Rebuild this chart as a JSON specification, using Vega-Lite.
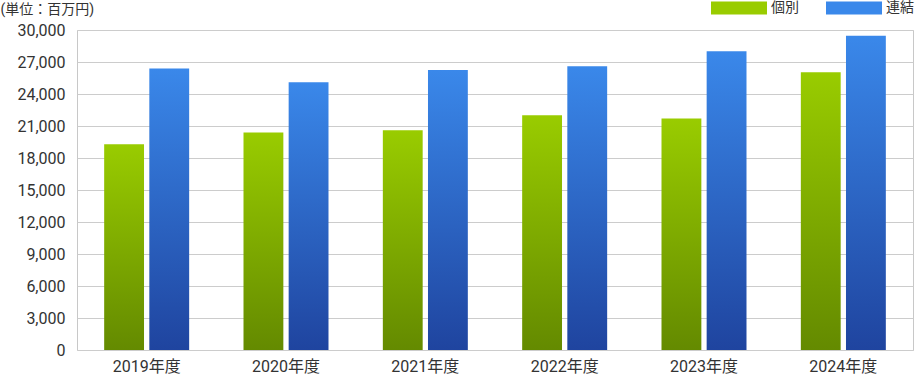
{
  "$schema": "https://vega.github.io/schema/vega-lite/v6.json",
  "width": 836,
  "height": 320,
  "autosize": {"type": "none"},
  "padding": {"left": 77, "top": 30, "right": 3, "bottom": 24},
  "background": "white",
  "config": {
    "view": {"stroke": "#c8c8c8"},
    "font": "Roboto, Noto Sans CJK JP"
  },
  "data": {
    "values": [
      {"year": "2019年度", "series": "個別", "value": 19300},
      {"year": "2019年度", "series": "連結", "value": 26400},
      {"year": "2020年度", "series": "個別", "value": 20400},
      {"year": "2020年度", "series": "連結", "value": 25100},
      {"year": "2021年度", "series": "個別", "value": 20600},
      {"year": "2021年度", "series": "連結", "value": 26250},
      {"year": "2022年度", "series": "個別", "value": 22000},
      {"year": "2022年度", "series": "連結", "value": 26600},
      {"year": "2023年度", "series": "個別", "value": 21700},
      {"year": "2023年度", "series": "連結", "value": 28000},
      {"year": "2024年度", "series": "個別", "value": 26050},
      {"year": "2024年度", "series": "連結", "value": 29450}
    ]
  },
  "encoding": {
    "x": {
      "field": "year", "type": "nominal", "sort": null,
      "scale": {"paddingInner": 0.39, "paddingOuter": 0.195},
      "axis": {"title": null, "labelAngle": 0, "labelFontSize": 16, "labelPadding": 16, "labelBaseline": "middle", "ticks": false, "domain": false, "grid": false, "labelColor": "#333333"}
    },
    "xOffset": {
      "field": "series", "type": "nominal",
      "scale": {"domain": ["個別", "連結"], "paddingInner": 0.1176, "paddingOuter": 0}
    },
    "y": {
      "field": "value", "type": "quantitative",
      "scale": {"domain": [0, 30000]},
      "axis": {
        "title": "(単位：百万円)", "titleAngle": 0, "titleAlign": "left", "titleBaseline": "middle",
        "titleX": -77, "titleY": -21, "titleFontSize": 14, "titleFontWeight": "normal", "titleColor": "#333333",
        "labelFontSize": 16, "labelColor": "#333333", "labelPadding": 12, "ticks": false, "domain": false,
        "gridColor": "#cccccc", "values": [0, 3000, 6000, 9000, 12000, 15000, 18000, 21000, 24000, 27000, 30000],
        "format": ",d"
      }
    }
  },
  "layer": [
    {
      "transform": [{"filter": "datum.series === '個別'"}],
      "mark": {"type": "bar", "fill": {"gradient": "linear", "x1": 0, "y1": 0, "x2": 0, "y2": 1, "stops": [{"offset": 0, "color": "#99cc00"}, {"offset": 1, "color": "#648a00"}]}}
    },
    {
      "transform": [{"filter": "datum.series === '連結'"}],
      "mark": {"type": "bar", "fill": {"gradient": "linear", "x1": 0, "y1": 0, "x2": 0, "y2": 1, "stops": [{"offset": 0, "color": "#3a88ea"}, {"offset": 1, "color": "#1f449f"}]}}
    },
    {
      "mark": {"type": "bar", "strokeWidth": 0},
      "encoding": {
        "y": {"datum": 0},
        "color": {
          "field": "series", "type": "nominal",
          "scale": {"domain": ["個別", "連結"], "range": ["#99cc00", "#3a88ea"]},
          "legend": {
            "orient": "none", "legendX": 634, "legendY": -50, "direction": "horizontal", "title": null,
            "symbolType": "M-1,-0.232H1V0.232H-1Z", "symbolSize": 3136, "symbolStrokeWidth": 0,
            "labelFontSize": 14, "labelColor": "#333333", "columnPadding": 27, "labelOffset": 4
          }
        }
      }
    }
  ]
}
